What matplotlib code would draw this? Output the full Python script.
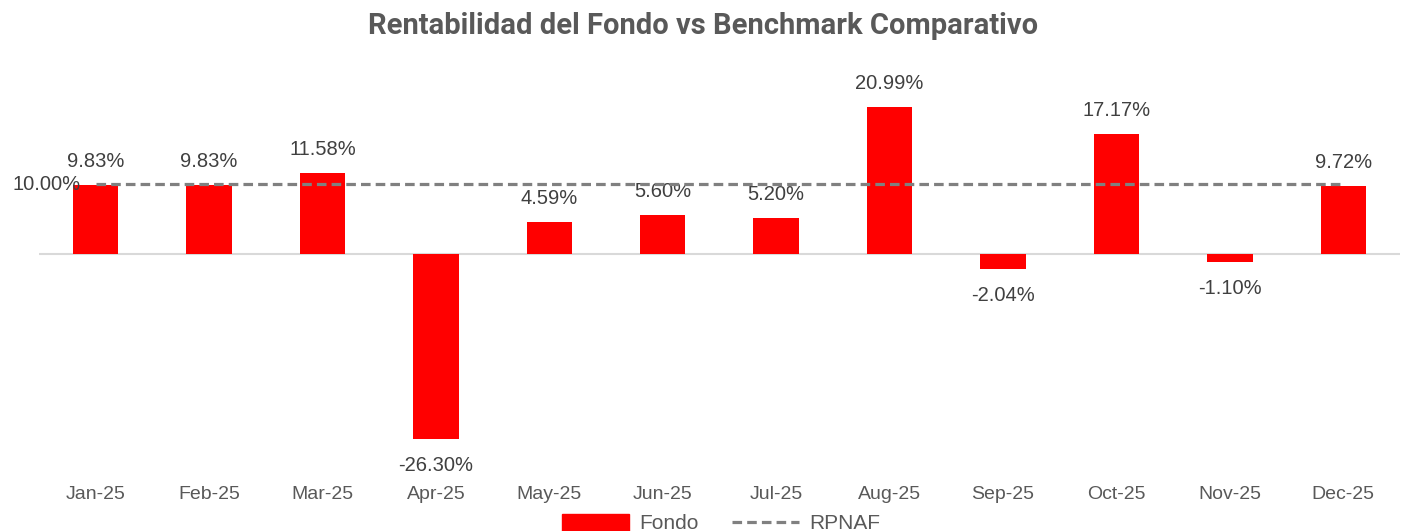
import matplotlib
matplotlib.use("Agg")
import matplotlib.pyplot as plt
from matplotlib.patches import Patch
from matplotlib.lines import Line2D

months = ["Jan-25", "Feb-25", "Mar-25", "Apr-25", "May-25", "Jun-25",
          "Jul-25", "Aug-25", "Sep-25", "Oct-25", "Nov-25", "Dec-25"]
fondo = [9.83, 9.83, 11.58, -26.30, 4.59, 5.60, 5.20, 20.99, -2.04, 17.17, -1.10, 9.72]
rpnaf = [10.0] * 12

plt.rcParams["font.family"] = ["Liberation Sans", "DejaVu Sans"]

fig = plt.figure(figsize=(14.07, 5.31), dpi=100)
ax = fig.add_axes([0.0277, 0.124, 0.9673, 0.728])

x = list(range(len(months)))
ax.bar(x, fondo, width=0.4, color="#ff0000", zorder=3)
ax.plot(x, rpnaf, color="#808080", lw=2.3, ls=(0, (3, 1.6)), zorder=4)
ax.axhline(0, color="#d9d9d9", lw=1.5, zorder=2)

ax.set_xlim(-0.5, len(months) - 0.5)
ax.set_ylim(-30, 25)
ax.set_yticks([])
for s in ax.spines.values():
    s.set_visible(False)
ax.set_xticks(x)
ax.set_xticklabels(months, fontsize=14, color="#595959")
ax.tick_params(axis="x", length=0, pad=15)

lab_fs = 14.5
for xi, v in zip(x, fondo):
    if v >= 0:
        ax.annotate(f"{v:.2f}%", (xi, v), xytext=(0, 17), textcoords="offset points",
                    ha="center", va="center", fontsize=lab_fs, color="#404040")
    else:
        ax.annotate(f"{v:.2f}%", (xi, v), xytext=(0, -19), textcoords="offset points",
                    ha="center", va="center", fontsize=lab_fs, color="#404040")

ax.annotate(f"{rpnaf[0]:.2f}%", (x[0], rpnaf[0]), xytext=(-11, 0), textcoords="offset points",
            ha="right", va="center", fontsize=lab_fs, color="#404040")

fig.suptitle("Rentabilidad del Fondo vs Benchmark Comparativo", y=0.978,
             fontsize=21, fontweight="bold", color="#595959", family="Roboto")

handles = [Patch(color="#ff0000", label="Fondo"),
           Line2D([0], [0], color="#808080", lw=2.3, ls=(0, (3, 1.6)), label="RPNAF")]
fig.legend(handles=handles, loc="center", bbox_to_anchor=(0.5125, 0.014), ncol=2,
           frameon=False, fontsize=15, labelcolor="#595959", handlelength=3.2,
           handleheight=0.9, columnspacing=1.6, handletextpad=0.5)

fig.savefig("out.png", dpi=100)
